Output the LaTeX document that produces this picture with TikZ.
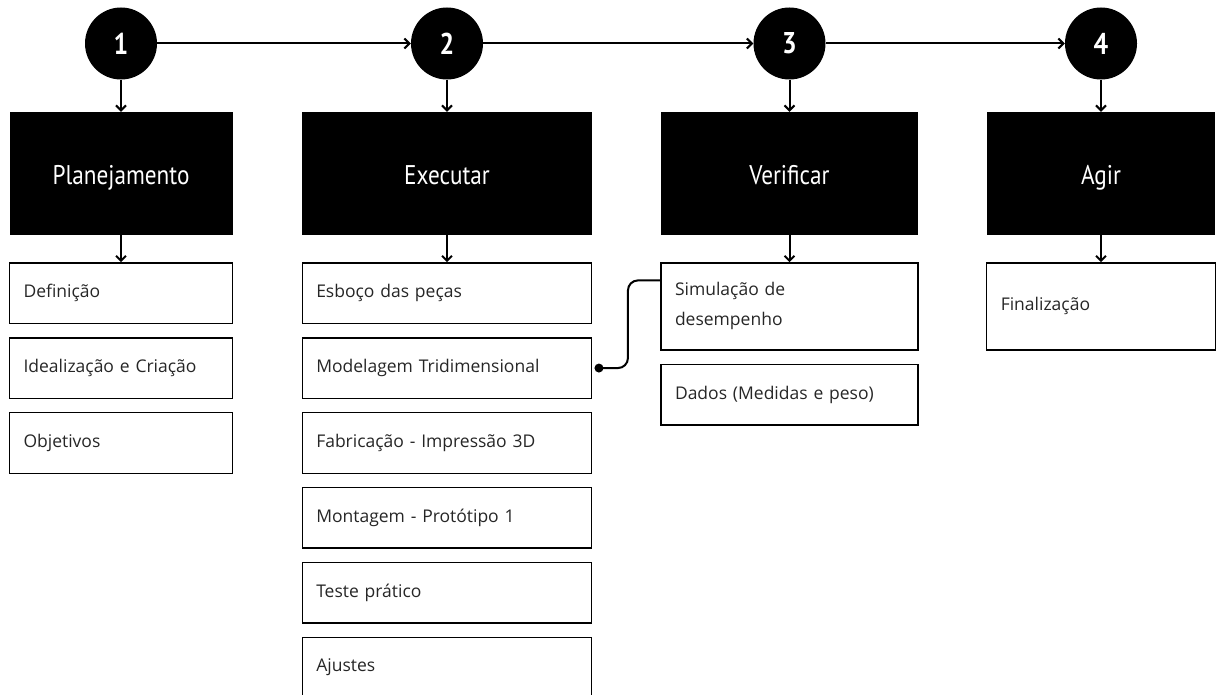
\documentclass[tikz,border=0pt]{standalone}
\usepackage{fontspec}
\setmainfont{Open Sans}
\newfontfamily\headfont[FakeStretch=0.86]{PT Sans}
\usetikzlibrary{positioning}
\usetikzlibrary{arrows.meta}
\tikzset{
  stepcirc/.style={circle, fill=black, minimum size=72pt, inner sep=0pt, text=white,
    font=\headfont\bfseries\fontsize{30}{30}\selectfont},
  headbox/.style={fill=black, text=white, minimum height=123pt, minimum width=#1, inner sep=0pt,
    text height=27pt, text depth=4pt, font=\headfont\fontsize{27}{27}\selectfont},
  itembox/.style={draw=black, line width=1.4pt, minimum height=60.5pt, inner xsep=14pt, inner ysep=0pt,
    text width=#1-28pt, align=left, text=black!85, font=\fontsize{17.5}{30}\selectfont},
  arr/.style={-{Straight Barb[length=5pt,width=10pt]}, line width=2pt},
  link/.style={line width=2pt, rounded corners=10pt}
}

\begin{document}
\begin{tikzpicture}[x=1pt, y=-1pt]
\clip (0,0) rectangle (1226,695);
% fases
\node[stepcirc] (c1) at (121,43.5) {1};
\node[stepcirc] (c2) at (447,43.5) {2};
\node[stepcirc] (c3) at (789.5,43.5) {3};
\node[stepcirc] (c4) at (1101,43.5) {4};
\node[headbox=223pt] (plan) at (121,173.5) {Planejamento};
\node[headbox=289.5pt] (exec) at (447,173.5) {Executar};
\node[headbox=257pt] (verif) at (789.5,173.5) {Verificar};
\node[headbox=228.5pt] (agir) at (1101,173.5) {Agir};
% planejamento
\node[itembox=223pt, below=27pt of plan] (defi) {Definição};
\node[itembox=223pt, below=13pt of defi] (idea) {Idealização e Criação};
\node[itembox=223pt, below=13pt of idea] (obje) {Objetivos};
% executar
\node[itembox=289.5pt, below=27pt of exec] (esbo) {Esboço das peças};
\node[itembox=289.5pt, below=13pt of esbo] (mode) {Modelagem Tridimensional};
\node[itembox=289.5pt, below=13pt of mode] (fabr) {Fabricação - Impressão 3D};
\node[itembox=289.5pt, below=13pt of fabr] (mont) {Montagem - Protótipo 1};
\node[itembox=289.5pt, below=13pt of mont] (test) {Teste prático};
\node[itembox=289.5pt, below=13pt of test] (ajus) {Ajustes};
% verificar
\node[itembox=257pt, minimum height=87pt, below=27pt of verif] (simu) {Simulação de\\desempenho};
\node[itembox=257pt, below=13pt of simu] (dado) {Dados (Medidas e peso)};
% agir
\node[itembox=228.5pt, minimum height=87pt, below=27pt of agir] (fina) {Finalização};

\draw[arr] (c1) -- (c2);
\draw[arr] (c2) -- (c3);
\draw[arr] (c3) -- (c4);
\draw[arr] (c1) -- (plan);
\draw[arr] (c2) -- (exec);
\draw[arr] (c3) -- (verif);
\draw[arr] (c4) -- (agir);
\draw[arr] (plan) -- (defi);
\draw[arr] (exec) -- (esbo);
\draw[arr] (verif) -- (simu);
\draw[arr] (agir) -- (fina);
\coordinate (dot) at ([xshift=6.5pt]mode.east);
\fill (dot) circle (4.5pt);
\draw[link] (dot) -- ([xshift=29pt]dot) |- ([yshift=26pt]simu.west);
\end{tikzpicture}
\end{document}
